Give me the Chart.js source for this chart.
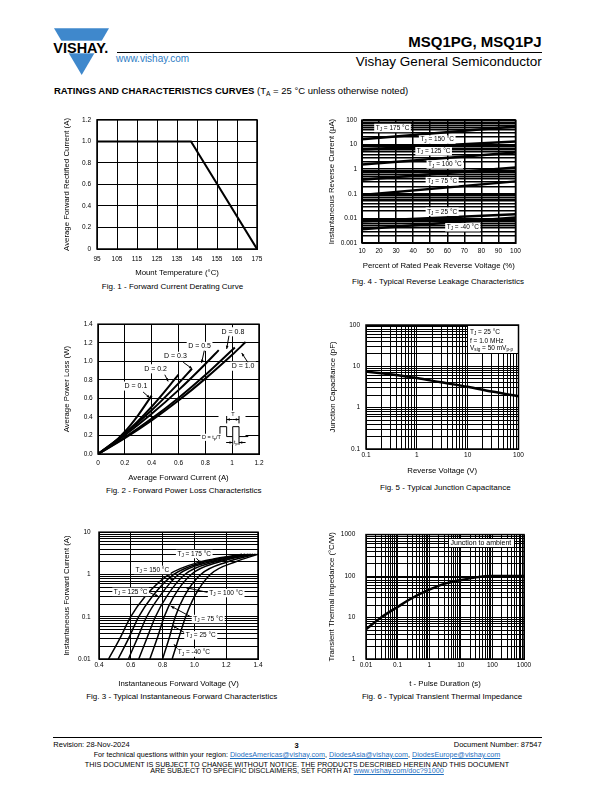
<!DOCTYPE html>
<html>
<head>
<meta charset="utf-8">
<script src="https://cdn.jsdelivr.net/npm/chart.js@4.4.1/dist/chart.umd.min.js"></script>
<style>
body { margin:0; width:612px; height:792px; position:relative; background:#fff; overflow:hidden;
       font-family:"Liberation Sans", Arial, sans-serif; color:#000; }
.abs { position:absolute; white-space:nowrap; }
.chart { position:absolute; }
.cap { position:absolute; white-space:nowrap; font-size:8px; line-height:10px; transform:translateX(-50%); }
.rule { position:absolute; height:1px; background:#000; }
sub { font-size:70%; vertical-align:baseline; position:relative; top:0.35em; line-height:0; }
.link { color:#1f6fbf; text-decoration:underline; }
</style>
</head>
<body>

<!-- header -->
<svg class="abs" style="left:50px;top:25px" width="66" height="54">
  <polygon points="4,3.3 59,3.3 31.7,50" fill="#3f88cc"/>
  <rect x="0" y="15.7" width="66" height="12.6" fill="#fff"/>
  <text x="3.3" y="27.5" font-family="Liberation Sans, Arial" font-weight="bold" font-size="14"
        textLength="55" lengthAdjust="spacingAndGlyphs">VISHAY.</text>
</svg>
<div class="abs" style="right:70.3px;top:32.7px;font-size:15px;line-height:18px;font-weight:bold">MSQ1PG, MSQ1PJ</div>
<div class="rule" style="left:116.7px;top:52px;width:425px"></div>
<div class="abs" style="left:116px;top:53px;font-size:10px;line-height:12px;color:#2e7cc4">www.vishay.com</div>
<div class="abs" style="right:70.3px;top:54.3px;font-size:13.5px;line-height:16px">Vishay General Semiconductor</div>
<div class="abs" style="left:54px;top:85px;font-size:9.5px;line-height:12px"><b>RATINGS AND CHARACTERISTICS CURVES</b> (T<sub>A</sub> = 25 °C unless otherwise noted)</div>

<!-- charts -->
<canvas id="fig1" class="chart" width="220" height="170" style="left:55px;top:110px"></canvas>
<canvas id="fig4" class="chart" width="215" height="163" style="left:320px;top:110px"></canvas>
<canvas id="fig2" class="chart" width="220" height="170" style="left:55px;top:315px"></canvas>
<canvas id="fig5" class="chart" width="215" height="164" style="left:320px;top:315px"></canvas>
<canvas id="fig3" class="chart" width="220" height="171" style="left:55px;top:520px"></canvas>
<canvas id="fig6" class="chart" width="220" height="171" style="left:320px;top:520px"></canvas>

<div class="cap" style="left:172.5px;top:282.3px">Fig. 1 - Forward Current Derating Curve</div>
<div class="cap" style="left:438px;top:277.3px">Fig. 4 - Typical Reverse Leakage Characteristics</div>
<div class="cap" style="left:183.8px;top:485.7px">Fig. 2 - Forward Power Loss Characteristics</div>
<div class="cap" style="left:445.3px;top:482.7px">Fig. 5 - Typical Junction Capacitance</div>
<div class="cap" style="left:181.7px;top:691.7px">Fig. 3 - Typical Instantaneous Forward Characteristics</div>
<div class="cap" style="left:442px;top:691.7px">Fig. 6 - Typical Transient Thermal Impedance</div>

<!-- footer -->
<div class="rule" style="left:53.3px;top:737px;width:488.4px"></div>
<div class="abs" style="left:53.3px;top:739.5px;font-size:7.5px;line-height:9px">Revision: 28-Nov-2024</div>
<div class="abs" style="left:294.5px;top:740.5px;font-size:7.5px;line-height:9px;font-weight:bold">3</div>
<div class="abs" style="right:70.3px;top:739.5px;font-size:7.5px;line-height:9px">Document Number: 87547</div>
<div class="abs" style="left:0;width:594px;text-align:center;top:749.8px;font-size:7.2px;line-height:9px">For technical questions within your region: <span class="link">DiodesAmericas@vishay.com</span>, <span class="link">DiodesAsia@vishay.com</span>, <span class="link">DiodesEurope@vishay.com</span></div>
<div class="abs" style="left:0;width:594px;text-align:center;top:759.8px;font-size:7.2px;line-height:9px">THIS DOCUMENT IS SUBJECT TO CHANGE WITHOUT NOTICE. THE PRODUCTS DESCRIBED HEREIN AND THIS DOCUMENT</div>
<div class="abs" style="left:0;width:594px;text-align:center;top:766.2px;font-size:7.2px;line-height:9px">ARE SUBJECT TO SPECIFIC DISCLAIMERS, SET FORTH AT <span class="link">www.vishay.com/doc?91000</span></div>

<script>
// ---- data ----

// Fig. 1 - derating
const fig1Temp = [95, 142, 175];
const fig1Current = [1.0, 1.0, 0];

// Fig. 4 - reverse leakage (uA) at 10 % and 100 % VRRM
const fig4Percent = [10, 100];
const fig4T175 = [16.5, 55];
const fig4T150 = [6.3, 13.5];
const fig4T125 = [1.55, 4.8];
const fig4T100 = [0.37, 1.18];
const fig4T75 = [0.09, 0.32];
const fig4T25 = [0.0077, 0.0148];
const fig4Tm40 = [0.0036, 0.011];

// Fig. 2 - power loss for each duty cycle
const fig2I_D01 = [0, 0.1, 0.2, 0.3, 0.4];
const fig2P_D01 = [0, 0.10, 0.24, 0.42, 0.63];
const fig2I_D02 = [0, 0.2, 0.4, 0.6];
const fig2P_D02 = [0, 0.22, 0.51, 0.855];
const fig2I_D03 = [0, 0.2, 0.4, 0.6, 0.7];
const fig2P_D03 = [0, 0.218, 0.472, 0.762, 0.92];
const fig2I_D05 = [0, 0.2, 0.4, 0.6, 0.8, 0.9];
const fig2P_D05 = [0, 0.203, 0.433, 0.689, 0.971, 1.12];
const fig2I_D08 = [0, 0.2, 0.4, 0.6, 0.8, 1.02];
const fig2P_D08 = [0, 0.179, 0.381, 0.605, 0.851, 1.148];
const fig2I_D10 = [0, 0.2, 0.4, 0.6, 0.8, 1.0, 1.1];
const fig2P_D10 = [0, 0.171, 0.363, 0.577, 0.813, 1.07, 1.207];

// Fig. 5 - junction capacitance
const fig5Volt = [0.1, 0.3, 1, 3, 10, 30, 100];
const fig5Cap = [7.5, 6.4, 5.2, 4.1, 3.2, 2.45, 1.9];

// Fig. 3 - forward voltage at each current level
const fig3Current = [0.01, 0.03, 0.1, 0.3, 1, 2, 3];
const fig3V175 = [0.46, 0.53, 0.60, 0.69, 0.84, 1.04, 1.30];
const fig3V150 = [0.52, 0.585, 0.65, 0.735, 0.87, 1.07, 1.32];
const fig3V125 = [0.585, 0.64, 0.70, 0.78, 0.90, 1.10, 1.34];
const fig3V100 = [0.65, 0.70, 0.755, 0.825, 0.94, 1.13, 1.355];
const fig3V75 = [0.72, 0.765, 0.81, 0.87, 0.98, 1.16, 1.37];
const fig3V25 = [0.80, 0.84, 0.88, 0.935, 1.04, 1.21, 1.385];
const fig3Vm40 = [0.86, 0.90, 0.945, 1.0, 1.10, 1.26, 1.40];

// Fig. 6 - transient thermal impedance
const fig6Time = [0.01, 0.03, 0.1, 0.3, 1, 3, 10, 30, 100, 1000];
const fig6Zth = [5.2, 10, 18, 30, 47, 65, 80, 93, 100, 100];

// ---- helpers ----
const FONT = "'Liberation Sans', Arial, sans-serif";
Chart.defaults.font.family = FONT;
Chart.defaults.color = '#000';

function logTicks(lo, hi) {
    const t = [];
    for (let e = lo; e < hi; e++) {
        for (let m = 1; m < 10; m++) t.push({ value: m * Math.pow(10, e) });
    }
    t.push({ value: Math.pow(10, hi) });
    return t;
}
function decadeLabel(v) {
    const l = Math.log10(v);
    return Math.abs(l - Math.round(l)) < 1e-6 ? String(Math.pow(10, Math.round(l))) : '';
}

function axis(o) {
    const a = {
        type: o.type || 'linear',
        min: o.min, max: o.max,
        afterFit: o.fit,
        ticks: { stepSize: o.step, autoSkip: false, maxRotation: 0, padding: o.tickPad,
                 font: { size: 6.5 }, color: '#000', callback: o.fmt },
        grid: { color: '#000', lineWidth: o.gridWidth || 1, drawTicks: false },
        border: { display: true, color: '#000', width: 1 },
        title: { display: true, text: o.title, color: '#000', font: { size: 7.8 }, padding: o.titlePad }
    };
    if (o.logTicks) a.afterBuildTicks = s => { s.ticks = logTicks(o.logTicks[0], o.logTicks[1]); };
    return a;
}

function series(xs, ys, width, smooth) {
    return {
        data: xs.map((x, i) => ({ x: x, y: ys[i] })),
        borderColor: '#000', borderWidth: width, pointRadius: 0, fill: false,
        tension: smooth ? 0.4 : 0,
        cubicInterpolationMode: smooth ? 'monotone' : 'default'
    };
}

const framePlugin = {
    id: 'frame',
    afterDraw(chart) {
        const { ctx, chartArea: a } = chart;
        ctx.save();
        ctx.strokeStyle = '#000';
        ctx.lineWidth = 1.5;
        ctx.strokeRect(a.left, a.top, a.right - a.left, a.bottom - a.top);
        ctx.restore();
    }
};

function drawLabel(ctx, x0, y0, l) {
    const size = l.size || 6.5, sub = size * 0.72;
    const parts = l.text.split(/_\{|\}/);
    let w = 0;
    parts.forEach((t, i) => { ctx.font = (i % 2 ? sub : size) + 'px ' + FONT; w += ctx.measureText(t).width; });
    let x = l.align === 'left' ? x0 : x0 - w / 2;
    if (l.bg !== false) {
        ctx.fillStyle = '#fff';
        ctx.fillRect(x - 1.5, y0 - size * 0.65, w + 3, size * 1.3);
    }
    ctx.fillStyle = '#000';
    ctx.textBaseline = 'middle';
    ctx.textAlign = 'left';
    parts.forEach((t, i) => {
        ctx.font = (i % 2 ? sub : size) + 'px ' + FONT;
        ctx.fillText(t, x, i % 2 ? y0 + size * 0.28 : y0);
        x += ctx.measureText(t).width;
    });
}

// labels, arrows and boxes placed in data units of the chart
function notes(spec) {
    return {
        id: 'notes',
        afterDatasetsDraw(chart) {
            const ctx = chart.ctx, sx = chart.scales.x, sy = chart.scales.y;
            const px = v => sx.getPixelForValue(v), py = v => sy.getPixelForValue(v);
            const snap = p => Math.round(p + 0.5) - 0.5;
            ctx.save();
            ctx.lineWidth = 1;
            ctx.strokeStyle = '#000';
            (spec.boxes || []).forEach(b => {
                const x1 = snap(px(b.x1)), x2 = snap(px(b.x2)), y1 = snap(py(b.y1)), y2 = snap(py(b.y2));
                ctx.fillStyle = '#fff';
                ctx.fillRect(Math.min(x1, x2), Math.min(y1, y2), Math.abs(x2 - x1), Math.abs(y2 - y1));
                if (b.stroke) ctx.strokeRect(Math.min(x1, x2), Math.min(y1, y2), Math.abs(x2 - x1), Math.abs(y2 - y1));
            });
            (spec.paths || []).forEach(p => {
                ctx.beginPath();
                p.forEach((q, i) => i ? ctx.lineTo(px(q[0]), py(q[1])) : ctx.moveTo(px(q[0]), py(q[1])));
                ctx.stroke();
            });
            (spec.labels || []).forEach(l => drawLabel(ctx, px(l.x), py(l.y), l));
            const hs = spec.head || 4;
            (spec.arrows || []).forEach(a => {
                const x1 = px(a[0]), y1 = py(a[1]), x2 = px(a[2]), y2 = py(a[3]);
                ctx.fillStyle = '#000';
                ctx.beginPath(); ctx.moveTo(x1, y1); ctx.lineTo(x2, y2); ctx.stroke();
                const ang = Math.atan2(y2 - y1, x2 - x1);
                ctx.beginPath();
                ctx.moveTo(x2, y2);
                ctx.lineTo(x2 - hs * Math.cos(ang - 0.4), y2 - hs * Math.sin(ang - 0.4));
                ctx.lineTo(x2 - hs * Math.cos(ang + 0.4), y2 - hs * Math.sin(ang + 0.4));
                ctx.closePath();
                ctx.fill();
            });
            ctx.restore();
        }
    };
}

function makeChart(id, datasets, xAxis, yAxis, pad, extra) {
    return new Chart(document.getElementById(id), {
        type: 'line',
        data: { datasets: datasets },
        options: {
            responsive: false, animation: false, devicePixelRatio: 1,
            layout: { padding: { top: pad[0], right: pad[1], bottom: 0, left: 0 } },
            plugins: { legend: { display: false }, tooltip: { enabled: false } },
            scales: { x: xAxis, y: yAxis }
        },
        plugins: extra ? [notes(extra), framePlugin] : [framePlugin]
    });
}

// ---- Fig. 1 ----
makeChart('fig1',
    [series(fig1Temp, fig1Current, 2, false)],
    axis({ min: 95, max: 175, step: 10, tickPad: 6, fmt: v => String(v),
           title: 'Mount Temperature (°C)', titlePad: { top: 0, bottom: 2 }, fit: s => { s.height = 31; } }),
    axis({ min: 0, max: 1.2, step: 0.2, tickPad: 6, fmt: v => (v === 0 ? '0' : v.toFixed(1)),
           title: 'Average Forward Rectified Current (A)', titlePad: { top: 7, bottom: 0 }, fit: s => { s.width = 42; } }),
    [9, 18]);

// ---- Fig. 4 ----
makeChart('fig4',
    [fig4T175, fig4T150, fig4T125, fig4T100, fig4T75, fig4T25, fig4Tm40].map(v => series(fig4Percent, v, 2.5, false)),
    axis({ min: 10, max: 100, step: 10, tickPad: 4.5, fmt: v => String(v), gridWidth: 1.5,
           title: 'Percent of Rated Peak Reverse Voltage (%)', titlePad: { top: 0, bottom: 2.5 }, fit: s => { s.height = 30; } }),
    axis({ type: 'logarithmic', min: 0.001, max: 100, logTicks: [-3, 2], tickPad: 5, fmt: decadeLabel, gridWidth: 1.5,
           title: 'Instantaneous Reverse Current (µA)', titlePad: { top: 7.5, bottom: 0 }, fit: s => { s.width = 42; } }),
    [10, 19.5],
    {
        labels: [
            { x: 27.9, y: 47.4, text: 'T_{J} = 175 °C' },
            { x: 54.1, y: 16.0, text: 'T_{J} = 150 °C' },
            { x: 52.0, y: 5.38, text: 'T_{J} = 125 °C' },
            { x: 58.6, y: 1.56, text: 'T_{J} = 100 °C' },
            { x: 57.0, y: 0.327, text: 'T_{J} = 75 °C' },
            { x: 57.0, y: 0.0187, text: 'T_{J} = 25 °C' },
            { x: 69.1, y: 0.00436, text: 'T_{J} = -40 °C' }
        ]
    });

// ---- Fig. 2 ----
makeChart('fig2',
    [series(fig2I_D01, fig2P_D01, 2, true), series(fig2I_D02, fig2P_D02, 2, true),
     series(fig2I_D03, fig2P_D03, 2, true), series(fig2I_D05, fig2P_D05, 2, true),
     series(fig2I_D08, fig2P_D08, 2, true), series(fig2I_D10, fig2P_D10, 2, true)],
    axis({ min: 0, max: 1.2, step: 0.2, tickPad: 5, fmt: v => String(Math.round(v * 10) / 10),
           title: 'Average Forward Current (A)', titlePad: { top: 0, bottom: 2.9 }, fit: s => { s.height = 31; } }),
    axis({ min: 0, max: 1.4, step: 0.2, tickPad: 5.3, fmt: v => v.toFixed(1),
           title: 'Average Power Loss (W)', titlePad: { top: 6.9, bottom: 0 }, fit: s => { s.width = 43; } }),
    [8, 16],
    {
        boxes: [{ x1: 0.9, y1: 0.1, x2: 1.1, y2: 0.44 }],
        paths: [
            [[0.909, 0.188], [0.909, 0.295], [0.959, 0.295], [0.959, 0.188], [1.004, 0.188],
             [1.004, 0.295], [1.051, 0.295], [1.051, 0.188], [1.12, 0.188]],
            [[1.004, 0.188], [1.004, 0.10]], [[1.051, 0.188], [1.051, 0.10]],
            [[0.959, 0.33], [0.959, 0.41]], [[1.051, 0.33], [1.051, 0.41]]
        ],
        labels: [
            { x: 0.283, y: 0.733, text: 'D = 0.1', size: 7 },
            { x: 0.429, y: 0.919, text: 'D = 0.2', size: 7 },
            { x: 0.577, y: 1.054, text: 'D = 0.3', size: 7 },
            { x: 0.757, y: 1.161, text: 'D = 0.5', size: 7 },
            { x: 1.006, y: 1.318, text: 'D = 0.8', size: 7 },
            { x: 1.081, y: 0.947, text: 'D = 1.0', size: 7 },
            { x: 1.005, y: 0.43, text: 'T', size: 5.5 },
            { x: 0.845, y: 0.18, text: 'D = t_{p}/T', size: 5.5 },
            { x: 1.028, y: 0.124, text: 't_{p}', size: 5.5, bg: false }
        ],
        head: 3.5,
        arrows: [
            [0.336, 0.669, 0.386, 0.605], [0.498, 0.855, 0.523, 0.783],
            [0.635, 0.99, 0.702, 0.919], [0.792, 1.115, 0.772, 0.983],
            [0.976, 1.275, 0.959, 1.133], [1.116, 0.99, 1.071, 1.09],
            [1.005, 0.372, 0.959, 0.372], [1.005, 0.372, 1.051, 0.372],
            [0.955, 0.124, 1.004, 0.124], [1.10, 0.124, 1.051, 0.124]
        ]
    });

// ---- Fig. 5 ----
makeChart('fig5',
    [series(fig5Volt, fig5Cap, 2.5, true)],
    axis({ type: 'logarithmic', min: 0.1, max: 100, logTicks: [-1, 2], tickPad: 2.8, fmt: decadeLabel,
           title: 'Reverse Voltage (V)', titlePad: { top: 0, bottom: 3.9 }, fit: s => { s.height = 30; } }),
    axis({ type: 'logarithmic', min: 0.1, max: 100, logTicks: [-1, 2], tickPad: 6, fmt: decadeLabel,
           title: 'Junction Capacitance (pF)', titlePad: { top: 8.5, bottom: 0 }, fit: s => { s.width = 46; } }),
    [10, 16.5],
    {
        boxes: [{ x1: 10, y1: 20, x2: 100, y2: 100, stroke: true }],
        labels: [
            { x: 11.1, y: 66.4, text: 'T_{J} = 25 °C', align: 'left', bg: false },
            { x: 11.1, y: 41.5, text: 'f = 1.0 MHz', align: 'left', bg: false },
            { x: 11.1, y: 27.6, text: 'V_{sig} = 50 mV_{p-p}', align: 'left', bg: false }
        ]
    });

// ---- Fig. 3 ----
makeChart('fig3',
    [fig3V175, fig3V150, fig3V125, fig3V100, fig3V75, fig3V25, fig3Vm40].map(v => series(v, fig3Current, 1.5, true)),
    axis({ min: 0.4, max: 1.4, step: 0.2, tickPad: 2.1, fmt: v => v.toFixed(1),
           title: 'Instantaneous Forward Voltage (V)', titlePad: { top: 0, bottom: 2.2 }, fit: s => { s.height = 32; } }),
    axis({ type: 'logarithmic', min: 0.01, max: 10, logTicks: [-2, 1], tickPad: 8.3, fmt: decadeLabel,
           title: 'Instantaneous Forward Current (A)', titlePad: { top: 6.9, bottom: 0 }, fit: s => { s.width = 44; } }),
    [9, 17],
    {
        labels: [
            { x: 0.999, y: 3.04, text: 'T_{J} = 175 °C' },
            { x: 0.735, y: 1.28, text: 'T_{J} = 150 °C' },
            { x: 0.599, y: 0.387, text: 'T_{J} = 125 °C' },
            { x: 1.20, y: 0.363, text: 'T_{J} = 100 °C' },
            { x: 1.087, y: 0.0883, text: 'T_{J} = 75 °C' },
            { x: 1.04, y: 0.0363, text: 'T_{J} = 25 °C' },
            { x: 0.997, y: 0.0142, text: 'T_{J} = -40 °C' }
        ],
        head: 4,
        arrows: [
            [1.013, 2.42, 1.044, 1.79], [0.838, 0.98, 0.865, 0.70],
            [0.72, 0.37, 0.775, 0.30], [1.082, 0.377, 0.945, 0.49],
            [0.977, 0.10, 0.851, 0.179], [0.935, 0.0427, 0.862, 0.0617],
            [0.893, 0.0176, 0.872, 0.0222]
        ]
    });

// ---- Fig. 6 ----
makeChart('fig6',
    [series(fig6Time, fig6Zth, 2.5, true)],
    axis({ type: 'logarithmic', min: 0.01, max: 1000, logTicks: [-2, 3], tickPad: 2.5, fmt: decadeLabel,
           title: 't - Pulse Duration (s)', titlePad: { top: 0, bottom: 2.2 }, fit: s => { s.height = 32; } }),
    axis({ type: 'logarithmic', min: 1, max: 1000, logTicks: [0, 3], tickPad: 10.7, fmt: decadeLabel,
           title: 'Transient Thermal Impedance (°C/W)', titlePad: { top: 7.5, bottom: 0 }, fit: s => { s.width = 46; } }),
    [9, 16],
    {
        boxes: [{ x1: 4, y1: 500, x2: 500, y2: 800, stroke: true }],
        labels: [{ x: 43.3, y: 630, text: 'Junction to ambient', size: 7, bg: false }]
    });
</script>
</body>
</html>
